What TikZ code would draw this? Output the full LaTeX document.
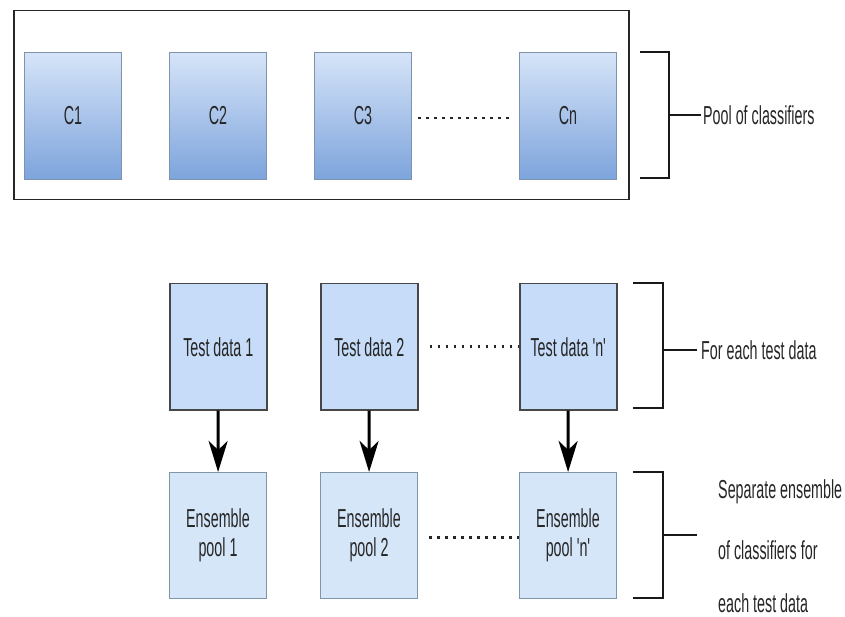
\documentclass[tikz,border=0pt]{standalone}
\usepackage{fontspec}
\setmainfont{Liberation Sans}
\newfontfamily\narrowfont[FakeStretch=0.55]{Liberation Sans}
\usetikzlibrary{arrows.meta}
\definecolor{cborder}{HTML}{7E93AD}
\definecolor{ctop}{HTML}{D6E4F8}
\definecolor{cbot}{HTML}{7DA4DC}
\definecolor{tfill}{HTML}{C6DCF8}
\definecolor{tborder}{HTML}{474747}
\definecolor{efill}{HTML}{D6E6F9}
\definecolor{eborder}{HTML}{7F95A8}
\tikzset{
  x=1pt, y=-1pt,
  lbl/.style={font=\narrowfont\fontsize{26}{28}\selectfont, text=black!85},
  cbox/.style={draw=cborder, line width=1pt, top color=ctop, bottom color=cbot,
    minimum width=97pt, minimum height=127pt, inner sep=0pt, lbl, anchor=north west},
  tbox/.style={draw=tborder, line width=1.5pt, fill=tfill,
    minimum width=97pt, minimum height=126pt, inner sep=0pt, lbl, align=center, anchor=north west},
  ebox/.style={draw=eborder, line width=1pt, fill=efill,
    minimum width=97pt, minimum height=126pt, inner sep=0pt, lbl, align=center, anchor=north west},
  dotline/.style={line width=2.6pt, dash pattern=on 2.6pt off 5.4pt, black!85},
  brk/.style={line width=1.5pt, black!90},
  arr/.style={line width=3pt, -{Stealth[length=31pt,width=19pt,inset=9pt]}},
}
\begin{document}
\begin{tikzpicture}
\useasboundingbox (0,0) rectangle (845,617);
% frame
\node[draw=black!85, line width=1.5pt, minimum width=615pt, minimum height=189pt, inner sep=0pt, anchor=north west] (frame) at (13,10) {};
% classifiers
\node[cbox] (c1) at (24,52) {C1};
\node[cbox] (c2) at (169,52) {C2};
\node[cbox] (c3) at (314,52) {C3};
\node[cbox] (cn) at (519,52) {Cn};
\draw[dotline] ([xshift=6pt,yshift=-2pt]c3.east) -- ([xshift=-9pt,yshift=-2pt]cn.west);
% bracket top
\coordinate (b1a) at (640,52);
\coordinate (b1b) at (669,52);
\coordinate (b1c) at (669,178);
\coordinate (b1d) at (640,178);
\coordinate (b1m) at (669,115);
\draw[brk] (b1a) -- (b1b) -- (b1c) -- (b1d);
\node[lbl, anchor=west, inner sep=0pt] (pool) at (703,115) {Pool of classifiers};
\draw[brk] (b1m) -- ([xshift=-2pt]pool.west);
% test data
\node[tbox] (t1) at (169,283) {Test data 1};
\node[tbox] (t2) at (320,283) {Test data 2};
\node[tbox] (tn) at (519,283) {Test data 'n'};
\draw[dotline] ([xshift=11pt]t2.east) -- (tn.west);
% ensembles
\node[ebox] (e1) at (169,472) {Ensemble\\[1pt]pool 1};
\node[ebox] (e2) at (320,472) {Ensemble\\[1pt]pool 2};
\node[ebox] (en) at (519,472) {Ensemble\\[1pt]pool 'n'};
\draw[dotline] ([xshift=11pt,yshift=-2pt]e2.east) -- ([yshift=-2pt]en.west);
% arrows
\draw[arr] (t1) -- (e1);
\draw[arr] (t2) -- (e2);
\draw[arr] (tn) -- (en);
% bracket middle
\coordinate (b2a) at (633,283);
\coordinate (b2b) at (663,283);
\coordinate (b2c) at (663,408);
\coordinate (b2d) at (633,408);
\coordinate (b2m) at (663,350);
\draw[brk] (b2a) -- (b2b) -- (b2c) -- (b2d);
\node[lbl, anchor=west, inner sep=0pt] (each) at (701,350) {For each test data};
\draw[brk] (b2m) -- ([xshift=-4pt]each.west);
% bracket bottom
\coordinate (b3a) at (633,472);
\coordinate (b3b) at (663,472);
\coordinate (b3c) at (663,598);
\coordinate (b3d) at (633,598);
\coordinate (b3m) at (663,535);
\coordinate (b3e) at (697,535);
\draw[brk] (b3a) -- (b3b) -- (b3c) -- (b3d);
\draw[brk] (b3m) -- (b3e);
\node[lbl, anchor=west, inner sep=0pt] (sep1) at (718,492) {Separate ensemble};
\node[lbl, anchor=west, inner sep=0pt] (sep2) at (718,550) {of classifiers for};
\node[lbl, anchor=west, inner sep=0pt] (sep3) at (718,603) {each test data};
\end{tikzpicture}
\end{document}
